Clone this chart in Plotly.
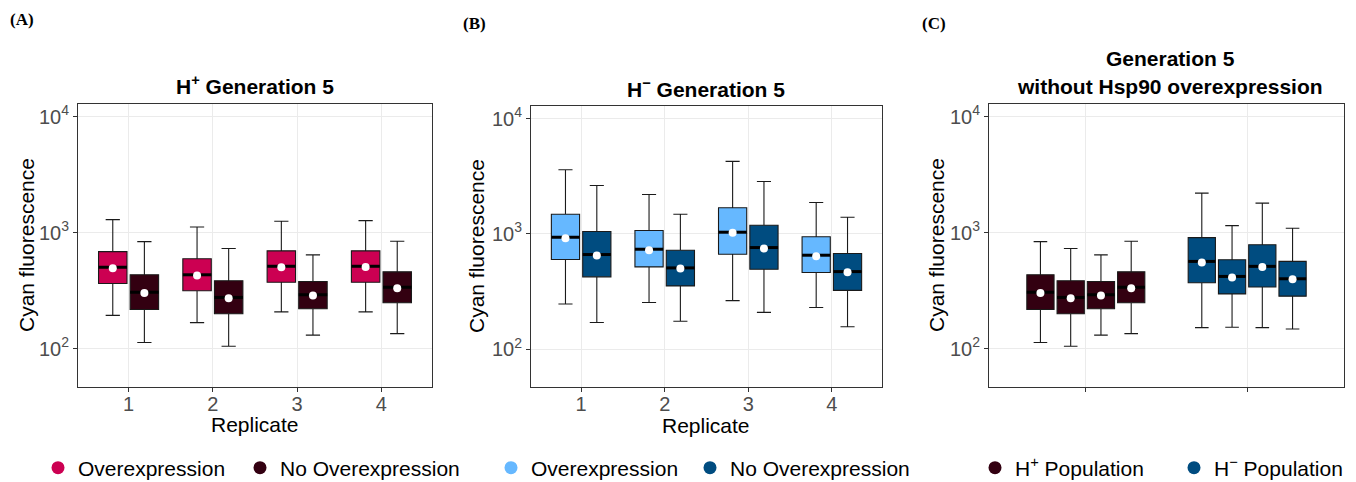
import plotly.graph_objects as go

# ---------------- data ----------------
replicates = [1, 2, 3, 4]
replicate_labels = ["1", "2", "3", "4"]
population_groups = [1, 2]
y_tick_vals = [100, 1000, 10000]
y_tick_text = ["10<sup>2</sup>", "10<sup>3</sup>", "10<sup>4</sup>"]

# Panel A: H+ Generation 5, Overexpression
hp_over_low = [194, 168, 208, 208]
hp_over_q1 = [365, 316, 374, 374]
hp_over_med = [504, 434, 514, 514]
hp_over_q3 = [688, 596, 698, 698]
hp_over_high = [1297, 1122, 1256, 1273]
hp_over_mean = [495, 428, 504, 507]

# Panel A: H+ Generation 5, No Overexpression (also H+ Population in panel C)
hp_noov_low = [113, 105, 131, 135]
hp_noov_q1 = [218, 200, 221, 249]
hp_noov_med = [307, 277, 292, 339]
hp_noov_q3 = [434, 385, 380, 460]
hp_noov_high = [839, 731, 644, 844]
hp_noov_mean = [303, 273, 288, 332]

# Panel B: H- Generation 5, Overexpression
hm_over_low = [246, 253, 263, 229]
hm_over_q1 = [598, 516, 665, 461]
hm_over_med = [934, 735, 1033, 652]
hm_over_q3 = [1479, 1069, 1683, 942]
hm_over_high = [3606, 2197, 4256, 1871]
hm_over_mean = [915, 720, 1020, 638]

# Panel B: H- Generation 5, No Overexpression
hm_noov_low = [170, 174, 208, 156]
hm_noov_q1 = [423, 353, 492, 323]
hm_noov_med = [661, 506, 760, 470]
hm_noov_q3 = [1047, 720, 1188, 674]
hm_noov_high = [2630, 1479, 2851, 1394]
hm_noov_mean = [647, 499, 745, 464]

# Panel C: H- Population without Hsp90 overexpression
hm_ctrl_low = [152, 153, 152, 148]
hm_ctrl_q1 = [370, 297, 341, 284]
hm_ctrl_med = [566, 420, 513, 401]
hm_ctrl_q3 = [907, 585, 789, 566]
hm_ctrl_high = [2197, 1152, 1800, 1094]
hm_ctrl_mean = [555, 412, 506, 398]

# ---------------- styling ----------------
PINK = "#CC0052"
MAROON = "#330011"
LIGHTBLUE = "#66B8FF"
DARKBLUE = "#004C80"
FONT = "Liberation Sans, Arial, Helvetica, sans-serif"
W, H = 1356, 482

DODGE = 0.75


def dodge_positions(groups, n, k):
    slot = DODGE / n
    return [g + (k - (n - 1) / 2) * slot for g in groups], slot * 0.9


fig = go.Figure()


def add_boxes(xs, width, low, q1, med, q3, high, mean, color, ax):
    xa = "x" if ax == 1 else f"x{ax}"
    ya = "y" if ax == 1 else f"y{ax}"
    fig.add_trace(go.Box(
        x=xs, lowerfence=low, q1=q1, median=med, q3=q3, upperfence=high,
        width=width, fillcolor=color, line=dict(color="#1A1A1A", width=1.1),
        boxpoints=False, showlegend=False, hoverinfo="skip",
        xaxis=xa, yaxis=ya))
    mx, my = [], []
    for x, m in zip(xs, med):
        mx += [x - width / 2, x + width / 2, None]
        my += [m, m, None]
    fig.add_trace(go.Scatter(
        x=mx, y=my, mode="lines", line=dict(color="black", width=3),
        showlegend=False, hoverinfo="skip", xaxis=xa, yaxis=ya))
    fig.add_trace(go.Scatter(
        x=xs, y=mean, mode="markers",
        marker=dict(color="white", size=8, line=dict(width=0)),
        showlegend=False, hoverinfo="skip", xaxis=xa, yaxis=ya))


# Panel A
xs, wd = dodge_positions(replicates, 2, 0)
add_boxes(xs, wd, hp_over_low, hp_over_q1, hp_over_med, hp_over_q3, hp_over_high, hp_over_mean, PINK, 1)
xs, wd = dodge_positions(replicates, 2, 1)
add_boxes(xs, wd, hp_noov_low, hp_noov_q1, hp_noov_med, hp_noov_q3, hp_noov_high, hp_noov_mean, MAROON, 1)

# Panel B
xs, wd = dodge_positions(replicates, 2, 0)
add_boxes(xs, wd, hm_over_low, hm_over_q1, hm_over_med, hm_over_q3, hm_over_high, hm_over_mean, LIGHTBLUE, 2)
xs, wd = dodge_positions(replicates, 2, 1)
add_boxes(xs, wd, hm_noov_low, hm_noov_q1, hm_noov_med, hm_noov_q3, hm_noov_high, hm_noov_mean, DARKBLUE, 2)

# Panel C: four replicates dodged within each population
n_rep = len(replicates)
xs_hp = [dodge_positions([population_groups[0]], n_rep, k)[0][0] for k in range(n_rep)]
xs_hm = [dodge_positions([population_groups[1]], n_rep, k)[0][0] for k in range(n_rep)]
wd_c = dodge_positions([population_groups[0]], n_rep, 0)[1]
add_boxes(xs_hp, wd_c, hp_noov_low, hp_noov_q1, hp_noov_med, hp_noov_q3, hp_noov_high, hp_noov_mean, MAROON, 3)
add_boxes(xs_hm, wd_c, hm_ctrl_low, hm_ctrl_q1, hm_ctrl_med, hm_ctrl_q3, hm_ctrl_high, hm_ctrl_mean, DARKBLUE, 3)

# Legend keys: one legend per key so each sits where the reference puts it
legend_entries = [
    ("Overexpression", PINK, 62),
    ("No Overexpression", MAROON, 264),
    ("Overexpression", LIGHTBLUE, 515),
    ("No Overexpression", DARKBLUE, 714),
    ("H<sup>+</sup> Population", MAROON, 999),
    ("H<sup>\u2212</sup> Population", DARKBLUE, 1198),
]


def px_x(v):
    return v / W


def px_y(v):
    return 1 - v / H


legend_layouts = {}
for i, (name, col, mx) in enumerate(legend_entries):
    lg = "legend" if i == 0 else f"legend{i + 1}"
    fig.add_trace(go.Scatter(
        x=[None], y=[None], mode="markers", name=name,
        marker=dict(color=col, size=13, symbol="circle"),
        legend=lg, showlegend=True, xaxis="x", yaxis="y"))
    legend_layouts[lg] = dict(
        orientation="h", yanchor="middle", xanchor="left", y=px_y(468), x=px_x(mx - 24),
        bgcolor="rgba(0,0,0,0)", font=dict(family=FONT, size=21, color="black"),
        itemclick=False, itemdoubleclick=False)

panels = {
    1: dict(x=(78, 432), y=(104, 387)),
    2: dict(x=(531, 882), y=(106, 387)),
    3: dict(x=(989, 1344), y=(104, 387)),
}

axis_common = dict(
    showline=True, mirror=True, linecolor="#333333", linewidth=1,
    gridcolor="#EBEBEB", gridwidth=1, zeroline=False,
    ticks="outside", ticklen=4, tickcolor="#333333", automargin=False,
    tickfont=dict(family=FONT, size=20, color="#4D4D4D"),
)

layout = dict(
    width=W, height=H, margin=dict(l=0, r=0, t=0, b=0, autoexpand=False),
    plot_bgcolor="white", paper_bgcolor="white",
    font=dict(family=FONT, color="black"),
    showlegend=True,
)
layout.update(legend_layouts)

for i, p in panels.items():
    xk = "xaxis" if i == 1 else f"xaxis{i}"
    yk = "yaxis" if i == 1 else f"yaxis{i}"
    yref = "y" if i == 1 else f"y{i}"
    xref = "x" if i == 1 else f"x{i}"
    if i < 3:
        xaxis = dict(axis_common, range=[0.4, 4.6], tickvals=replicates, ticktext=replicate_labels,
                     ticklabelstandoff=-5)
    else:
        xaxis = dict(axis_common, range=[0.4, 2.6], tickvals=population_groups, ticktext=["", ""])
    xaxis.update(domain=[px_x(p["x"][0]), px_x(p["x"][1])], anchor=yref)
    yaxis = dict(axis_common, type="log", range=[1.67, 4.11], tickvals=y_tick_vals, ticktext=y_tick_text,
                 domain=[px_y(p["y"][1]), px_y(p["y"][0])], anchor=xref)
    layout[xk] = xaxis
    layout[yk] = yaxis

fig.update_layout(**layout)

annotations = []
# panel tags
for tag, x, y in [("(A)", 8, 20), ("(B)", 461, 23), ("(C)", 920, 23)]:
    annotations.append(dict(text=f"<b>{tag}</b>", x=px_x(x), y=px_y(y), xref="paper", yref="paper",
                            xanchor="left", yanchor="middle", showarrow=False,
                            font=dict(family="Liberation Serif, Times New Roman, serif", size=17, color="black")))
# titles
for text, x, y in [("<b>H<sup>+</sup> Generation 5</b>", 255, 85),
                   ("<b>H<sup>\u2212</sup> Generation 5</b>", 706, 88),
                   ("<b>Generation 5</b>", 1170, 58),
                   ("<b>without Hsp90 overexpression</b>", 1170, 86)]:
    annotations.append(dict(text=text, x=px_x(x), y=px_y(y), xref="paper", yref="paper",
                            xanchor="center", yanchor="middle", showarrow=False,
                            font=dict(family=FONT, size=21, color="black")))
# y axis titles
for x, y in [(26, 245), (477, 246), (936, 245)]:
    annotations.append(dict(text="Cyan fluorescence", x=px_x(x), y=px_y(y), xref="paper", yref="paper",
                            xanchor="center", yanchor="middle", textangle=-90, showarrow=False,
                            font=dict(family=FONT, size=21, color="black")))
# x axis titles
for x, y in [(255, 424), (706, 425)]:
    annotations.append(dict(text="Replicate", x=px_x(x), y=px_y(y), xref="paper", yref="paper",
                            xanchor="center", yanchor="middle", showarrow=False,
                            font=dict(family=FONT, size=21, color="black")))

fig.update_layout(annotations=annotations)
fig.write_html("out.html", config={"displayModeBar": False},
               post_script="document.body.style.margin='0';")
